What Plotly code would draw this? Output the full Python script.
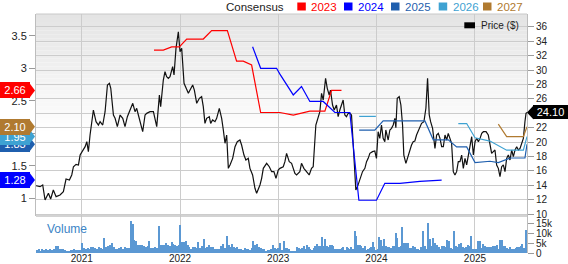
import numpy as np
import plotly.graph_objects as go
from datetime import datetime

# ---------------- data (decimal years) ----------------
price_year = [
    2020.535, 2020.576, 2020.603, 2020.627, 2020.661, 2020.684, 2020.711, 2020.739, 2020.779, 2020.813,
    2020.840, 2020.874, 2020.898, 2020.915, 2020.942, 2020.966, 2020.983, 2021.010, 2021.034, 2021.051,
    2021.067, 2021.084, 2021.118, 2021.145, 2021.169, 2021.186, 2021.213, 2021.237, 2021.261, 2021.281,
    2021.295, 2021.322, 2021.339, 2021.362, 2021.390, 2021.417, 2021.440, 2021.464, 2021.491, 2021.519,
    2021.542, 2021.559, 2021.576, 2021.593, 2021.620, 2021.644, 2021.661, 2021.695, 2021.729, 2021.763,
    2021.790, 2021.803, 2021.830, 2021.847, 2021.864, 2021.881, 2021.898, 2021.925, 2021.939, 2021.959,
    2021.983, 2022.000, 2022.017, 2022.041, 2022.061, 2022.085, 2022.102, 2022.129, 2022.146, 2022.170,
    2022.197, 2022.220, 2022.237, 2022.254, 2022.271, 2022.298, 2022.312, 2022.332, 2022.356, 2022.373,
    2022.400, 2022.424, 2022.441, 2022.458, 2022.475, 2022.492, 2022.509, 2022.536, 2022.560, 2022.583,
    2022.610, 2022.627, 2022.651, 2022.671, 2022.695, 2022.712, 2022.739, 2022.763, 2022.780, 2022.814,
    2022.831, 2022.848, 2022.882, 2022.909, 2022.933, 2022.956, 2022.977, 2023.000,
    2023.017, 2023.051, 2023.068, 2023.085, 2023.112, 2023.136, 2023.170, 2023.187, 2023.220, 2023.237,
    2023.261, 2023.288, 2023.315, 2023.339, 2023.356, 2023.383, 2023.407, 2023.424, 2023.441, 2023.458,
    2023.482, 2023.499, 2023.519, 2023.532, 2023.553, 2023.570, 2023.593, 2023.610, 2023.627, 2023.644,
    2023.661, 2023.678, 2023.695, 2023.712, 2023.729, 2023.746, 2023.770, 2023.790, 2023.807, 2023.831,
    2023.858, 2023.882, 2023.899, 2023.916, 2023.933, 2023.960, 2023.983, 2024.000, 2024.017, 2024.034,
    2024.051, 2024.068, 2024.085, 2024.095, 2024.119, 2024.136, 2024.153, 2024.170, 2024.187, 2024.197,
    2024.211, 2024.231, 2024.248, 2024.265, 2024.278, 2024.299, 2024.323, 2024.339, 2024.356, 2024.373,
    2024.390, 2024.407, 2024.434, 2024.458, 2024.482, 2024.502, 2024.519, 2024.536, 2024.550, 2024.570,
    2024.594, 2024.611, 2024.628, 2024.645, 2024.662, 2024.679, 2024.696, 2024.713, 2024.729, 2024.746,
    2024.763, 2024.780, 2024.797, 2024.814, 2024.831, 2024.848, 2024.865, 2024.882, 2024.899, 2024.916,
    2024.933, 2024.950, 2024.967, 2024.984, 2025.001, 2025.018, 2025.035, 2025.052, 2025.069, 2025.086,
    2025.113, 2025.136, 2025.153, 2025.170, 2025.187, 2025.204, 2025.221, 2025.238, 2025.255, 2025.272,
    2025.289, 2025.306, 2025.323, 2025.340, 2025.357, 2025.374, 2025.391, 2025.408, 2025.425, 2025.442,
    2025.459, 2025.476, 2025.493, 2025.509, 2025.520, 2025.530,
]
price_usd = [
    13.93, 13.80, 14.03, 11.94, 12.87, 12.08, 13.33, 12.41, 12.64, 13.10,
    14.86, 14.72, 15.42, 16.57, 16.90, 16.81, 18.19, 18.89, 19.35, 20.05,
    18.66, 20.97, 24.44, 22.82, 22.36, 22.82, 22.36, 24.21, 27.92, 28.15,
    27.46, 23.75, 23.29, 22.13, 23.75, 23.29, 22.13, 23.52, 24.44, 25.37,
    24.21, 24.68, 23.75, 22.82, 21.43, 23.75, 23.98, 24.21, 24.21, 22.13,
    26.53, 24.91, 28.61, 29.76, 29.07, 28.84, 29.07, 30.46, 29.31, 33.01,
    35.32, 32.54, 33.01, 28.15, 27.46, 26.76, 27.22, 27.92, 27.22, 25.37,
    26.07, 26.30, 24.91, 22.59, 23.29, 23.52, 22.59, 23.06, 22.82, 23.29,
    24.68, 23.29, 21.67, 19.82, 20.97, 16.34, 16.81, 17.73, 19.35, 20.05,
    20.28, 19.58, 18.19, 17.50, 17.73, 16.34, 15.42, 13.57, 12.87, 14.03,
    14.96, 16.34, 17.04, 16.57, 15.88, 15.88, 14.96, 16.11,
    16.34, 16.57, 17.27, 18.43, 17.27, 17.04, 15.65, 15.42, 15.88, 17.04,
    16.34, 15.88, 15.42, 16.34, 16.57, 22.36, 23.29, 24.21, 26.76, 25.83,
    28.84, 27.46, 26.53, 27.22, 25.14, 24.44, 25.14, 23.52, 24.44, 25.14,
    25.83, 23.75, 23.52, 23.98, 23.98, 23.75, 17.27, 13.33, 13.80, 14.96,
    15.88, 16.34, 17.27, 17.73, 18.43, 18.66, 18.75, 17.73, 21.43, 20.51,
    22.36, 20.51, 20.05, 21.67, 20.28, 21.67, 21.90, 22.36, 23.29, 21.99,
    26.07, 26.30, 25.14, 22.36, 18.19, 17.04, 18.19, 18.66, 19.58, 20.05,
    20.14, 20.97, 21.90, 22.59, 22.82, 24.68, 28.84, 23.75, 22.82, 21.90,
    19.12, 20.97, 21.20, 20.51, 19.35, 19.35, 20.97, 20.28, 21.20, 20.51,
    19.82, 15.88, 15.42, 15.88, 17.27, 17.27, 18.19, 16.34, 17.73, 16.81,
    18.19, 19.58, 20.74, 18.19, 20.05, 20.51, 20.05, 20.51, 21.20, 21.43,
    21.43, 20.97, 19.35, 18.43, 18.66, 18.89, 16.81, 16.34, 15.18, 16.57,
    16.81, 15.88, 17.73, 18.19, 17.50, 18.89, 17.96, 18.89, 19.35, 18.89,
    19.12, 19.82, 20.51, 22.82, 23.98, 24.10,
]

cons_2023_year = [2021.735, 2021.830, 2021.915, 2021.993, 2022.068, 2022.237, 2022.322, 2022.482, 2022.576,
                  2022.644, 2022.729, 2022.821, 2023.017, 2023.153, 2023.322, 2023.475, 2023.543, 2023.644]
cons_2023_eps = [3.28, 3.28, 3.33, 3.33, 3.45, 3.45, 3.58, 3.58, 3.11, 3.11, 3.05, 2.32, 2.32, 2.28, 2.34, 2.34, 2.66, 2.66]

cons_2024_year = [2022.739, 2022.821, 2022.983, 2023.017, 2023.153, 2023.237, 2023.322, 2023.458, 2023.577,
                  2023.729, 2023.821, 2024.000, 2024.085, 2024.238, 2024.441, 2024.662]
cons_2024_eps = [3.33, 3.00, 3.00, 2.91, 2.59, 2.72, 2.49, 2.49, 2.32, 2.32, 0.97, 0.97, 1.23, 1.23, 1.26, 1.28]

cons_2025_year = [2023.824, 2023.983, 2024.068, 2024.492, 2024.577, 2024.729, 2024.814, 2024.916, 2025.001,
                  2025.153, 2025.238, 2025.357, 2025.509, 2025.530]
cons_2025_eps = [2.05, 2.05, 2.19, 2.19, 1.90, 1.90, 1.79, 1.79, 1.55, 1.57, 1.55, 1.62, 1.62, 1.83]

cons_2026_year = [2023.824, 2023.994, 2024.400, 2024.831, 2024.916, 2025.001, 2025.153, 2025.323, 2025.493, 2025.530]
cons_2026_eps = [2.26, 2.26, None, 2.15, 2.15, 1.93, 1.88, 1.74, 1.74, 1.95]

cons_2027_year = [2025.238, 2025.323, 2025.493, 2025.530]
cons_2027_eps = [2.14, 1.95, 1.95, 2.10]

# weekly volume (thousands of shares), in four consecutive stretches of time
vol_span_1 = (2020.545, 2021.786)
vol_k_1 = [1.5, 1.8, 1.2, 2.0, 1.5, 1.8, 1.5, 2.0, 1.7, 2.2, 3.7, 3.6, 2.0, 1.8, 2.0, 1.5,
           1.2, 1.0, 1.3, 1.5, 2.2, 1.4, 1.6, 1.5, 4.8, 2.6, 2.2, 2.5, 2.0, 2.8, 3.0, 2.4,
           2.0, 2.8, 2.5, 2.2, 7.7, 3.2, 3.5, 4.2, 4.8, 3.0, 2.2, 2.0, 2.4, 2.8, 2.2, 3.0,
           2.5, 2.3, 16.0, 14.3, 6.5, 6.0, 4.0, 3.8, 4.2, 3.5, 3.0, 3.5, 6.0, 2.6, 2.4, 2.8,
           2.5, 13.7]
vol_span_2 = (2021.807, 2023.058)
vol_k_2 = [4.0, 3.8, 4.0, 5.0, 3.8, 3.5, 5.4, 4.3, 4.2, 3.5, 3.8, 13.8, 5.3, 5.3, 6.0, 4.0,
           3.2, 2.2, 2.8, 2.8, 2.6, 5.3, 2.5, 3.5, 7.2, 2.5, 3.2, 3.8, 2.8, 2.8, 2.2, 1.8,
           1.8, 2.2, 3.5, 4.3, 2.5, 8.5, 4.0, 3.0, 4.7, 2.8, 2.5, 3.0, 1.8, 2.0, 1.5, 2.5,
           2.2, 1.8, 1.5, 2.3, 6.0, 4.0, 4.5, 2.8, 2.5, 2.0, 1.8, 1.2, 1.5, 1.5, 2.0, 4.2,
           2.3, 2.0, 2.5, 4.8, 1.5, 6.0]
vol_span_3 = (2023.078, 2024.299)
vol_k_3 = [2.5, 2.5, 2.0, 1.2, 1.0, 1.0, 1.2, 2.8, 2.5, 2.0, 2.5, 3.3, 2.2, 4.0, 3.0, 2.2,
           1.5, 2.5, 3.5, 4.3, 3.5, 3.5, 8.0, 3.7, 7.0, 3.5, 3.2, 3.8, 3.8, 3.5, 2.0, 2.2,
           1.8, 2.0, 2.5, 3.0, 1.5, 3.0, 2.5, 1.8, 2.8, 1.8, 11.0, 8.5, 4.2, 3.8, 3.5, 2.5,
           3.5, 1.5, 2.2, 2.5, 3.0, 5.5, 3.0, 1.3, 2.0, 8.0, 6.5, 3.5, 7.0, 3.5, 3.0, 3.0,
           2.5, 3.5, 3.3, 10.0, 7.5, 3.0, 3.5, 13.0, 5.0, 5.0]
vol_span_4 = (2024.319, 2025.520)
vol_k_4 = [5.0, 2.5, 2.7, 3.5, 2.8, 2.0, 1.8, 1.5, 3.0, 11.0, 3.5, 2.0, 15.0, 7.0, 3.5, 7.5,
           5.0, 4.0, 3.0, 2.0, 3.7, 3.5, 3.0, 6.5, 6.0, 2.5, 2.0, 10.8, 3.5, 3.0, 4.5, 5.0,
           3.0, 2.5, 3.0, 3.8, 3.5, 8.5, 2.0, 2.0, 2.0, 6.0, 6.0, 2.5, 4.5, 3.3, 3.0, 2.8,
           3.0, 3.0, 3.5, 3.5, 3.8, 2.0, 6.5, 6.5, 3.3, 3.5, 2.5, 2.2, 3.0, 2.2, 2.0, 2.5,
           2.8, 3.0, 3.5, 4.5, 2.5, 11.5]

x_range_years = (2020.535, 2025.530)
year_ticks = [2021, 2022, 2023, 2024, 2025]
price_ticks = list(range(10, 37, 2))
eps_ticks = [1, 1.5, 2, 2.5, 3, 3.5]
vol_ticks = [0, 5, 10, 15]
vol_tick_text = ["0", "5k", "10k", "15k"]

series_names = ["2023", "2024", "2025", "2026", "2027"]
series_colors = ["#ff0000", "#0000ff", "#1f5fae", "#3ea2d2", "#b07a30"]


def to_date(y):
    if y is None:
        return None
    yr = int(np.floor(y))
    s = datetime(yr, 1, 1)
    e = datetime(yr + 1, 1, 1)
    return s + (e - s) * (y - yr)


# ---------------- figure ----------------
W, H = 568, 264
ML, MR, MT, MB = 36, 41, 14, 11
PW, PH = W - ML - MR, H - MT - MB
VOL_TOP = 216  # pixel row where price panel ends


def px(x):
    return (x - ML) / PW


def py(y):
    return (H - MB - y) / PH


split = py(VOL_TOP)

fig = go.Figure()

# volume bars
vol_x, vol_y = [], []
for span, vals in [(vol_span_1, vol_k_1), (vol_span_2, vol_k_2), (vol_span_3, vol_k_3), (vol_span_4, vol_k_4)]:
    ys = np.linspace(span[0], span[1], len(vals))
    vol_x += [to_date(v) for v in ys]
    vol_y += vals
fig.add_trace(go.Bar(x=vol_x, y=vol_y, yaxis="y3", marker=dict(color="#5b98d3", line=dict(width=0)),
                     width=5.0 * 86400000, hoverinfo="skip"))

cons = [(cons_2023_year, cons_2023_eps), (cons_2024_year, cons_2024_eps), (cons_2025_year, cons_2025_eps),
        (cons_2026_year, cons_2026_eps), (cons_2027_year, cons_2027_eps)]
for (yrs, eps), name, col in zip(cons, series_names, series_colors):
    fig.add_trace(go.Scatter(x=[to_date(v) for v in yrs], y=eps, yaxis="y2", mode="lines", name=name,
                             line=dict(color=col, width=1.2), connectgaps=False))

fig.add_trace(go.Scatter(x=[to_date(v) for v in price_year], y=price_usd, yaxis="y", mode="lines",
                         name="Price ($)", line=dict(color="#111111", width=1.2)))

shapes = []
# background gradient of the price panel
n = 30
top, bot = 14, 135
for i in range(n):
    y0 = top + (bot - top) * i / n
    y1 = top + (bot - top) * (i + 1) / n
    g = int(round(228 + (255 - 228) * i / (n - 1)))
    shapes.append(dict(type="rect", xref="paper", yref="paper", x0=0, x1=1, y0=py(y1), y1=py(y0),
                       fillcolor=f"rgb({g},{g},{g})", line=dict(width=0), layer="below"))
# frame lines
shapes.append(dict(type="line", xref="paper", yref="paper", x0=0, x1=1, y0=1, y1=1,
                   line=dict(color="#c8c8c8", width=1)))
shapes.append(dict(type="line", xref="paper", yref="paper", x0=0, x1=1, y0=split, y1=split,
                   line=dict(color="#c4c4c4", width=1.5)))

annotations = []
# header legend
annotations.append(dict(text="Consensus", xref="paper", yref="paper", x=px(225), y=py(0),
                        xanchor="left", yanchor="top", showarrow=False, borderpad=0,
                        font=dict(size=11.5, color="#222222", family="Arial")))
sq_x = [297.3, 344, 391, 438.7, 483]
for sx, name, col in zip(sq_x, series_names, series_colors):
    shapes.append(dict(type="rect", xref="paper", yref="paper", x0=px(sx), x1=px(sx + 8.5),
                       y0=py(10.5), y1=py(2.5), fillcolor=col, line=dict(width=0)))
    annotations.append(dict(text=name, xref="paper", yref="paper", x=px(sx + 13), y=py(0),
                            xanchor="left", yanchor="top", showarrow=False, borderpad=0,
                            font=dict(size=11.5, color=col, family="Arial")))
# price legend
shapes.append(dict(type="rect", xref="paper", yref="paper", x0=px(464.3), x1=px(475), y0=py(28.3), y1=py(22.3),
                   fillcolor="#000000", line=dict(width=0)))
annotations.append(dict(text="Price ($)", xref="paper", yref="paper", x=px(478.5), y=py(25.5),
                        xanchor="left", yanchor="middle", showarrow=False,
                        font=dict(size=10, color="#222222", family="Arial")))
# volume label
annotations.append(dict(text="Volume", xref="paper", yref="paper", x=px(45), y=py(228.5),
                        xanchor="left", yanchor="middle", showarrow=False,
                        font=dict(size=12, color="#3b84c6", family="Arial")))

# left badges (last consensus values), drawn bottom-to-top
badge_order = [0, 1, 2, 3, 4]
for i in badge_order:
    last = cons[i][1][-1]
    col = series_colors[i]
    shapes.append(dict(type="path", xref="paper", yref="y2", xsizemode="pixel", ysizemode="pixel",
                       xanchor=px(0), yanchor=last, path="M 29,-8 L 35,0 L 29,8 Z",
                       fillcolor=col, line=dict(width=0)))
    annotations.append(dict(text=f"{last:.2f}", xref="paper", yref="y2", x=px(0), y=last,
                            xanchor="left", yanchor="middle", showarrow=False, width=30, height=16,
                            bgcolor=col, borderpad=0, borderwidth=0,
                            font=dict(size=11, color="white", family="Arial")))

# right price badge
last_price = price_usd[-1]
shapes.append(dict(type="path", xref="paper", yref="y", xsizemode="pixel", ysizemode="pixel",
                   xanchor=1, yanchor=last_price, path="M 0,0 L 6.5,-7 L 6.5,7 Z",
                   fillcolor="#000000", line=dict(width=0)))
annotations.append(dict(text=f"{last_price:.2f}", xref="paper", yref="y", x=px(533), y=last_price,
                        xanchor="left", yanchor="middle", showarrow=False, width=35, height=14,
                        bgcolor="#000000", borderpad=0, borderwidth=0,
                        font=dict(size=11, color="white", family="Arial")))

axis_font = dict(size=10, color="#222222", family="Arial")
fig.update_layout(
    width=W, height=H, margin=dict(l=ML, r=MR, t=MT, b=MB, autoexpand=False),
    paper_bgcolor="white", plot_bgcolor="rgba(0,0,0,0)", showlegend=False, bargap=0,
    font=dict(family="Arial", size=10, color="#222222"),
    xaxis=dict(type="date", range=[to_date(x_range_years[0]), to_date(x_range_years[1])],
               tickvals=[datetime(y, 1, 1) for y in year_ticks], ticktext=[str(y) for y in year_ticks],
               showgrid=True, gridcolor="#cccccc", gridwidth=1, zeroline=False, showline=False,
               ticks="", tickfont=axis_font, anchor="y3", automargin=False, ticklabelstandoff=-2),
    yaxis=dict(domain=[split, 1], side="right", range=[9.722, 37.78], tickvals=price_ticks,
               showgrid=True, gridcolor="#cccccc", gridwidth=1, zeroline=False,
               showline=True, linecolor="#bdbdbd", linewidth=1, automargin=False,
               ticks="outside", ticklen=6, tickcolor="#9a9a9a", tickfont=axis_font, anchor="x"),
    yaxis2=dict(overlaying="y", side="left", range=[0.7277, 3.835], tickvals=eps_ticks,
                showgrid=False, zeroline=False, showline=True, linecolor="#bdbdbd", linewidth=1,
                automargin=False, ticks="outside", ticklen=6, tickcolor="#9a9a9a",
                tickfont=dict(size=11, color="#222222", family="Arial"), anchor="x"),
    yaxis3=dict(domain=[0, split], side="right", range=[0, 18.5], tickvals=vol_ticks, ticktext=vol_tick_text,
                showgrid=False, zeroline=False, showline=True, linecolor="#bdbdbd", linewidth=1,
                automargin=False, ticks="outside", ticklen=6, tickcolor="#9a9a9a", tickfont=axis_font,
                anchor="x"),
    shapes=shapes, annotations=annotations,
)

fig.write_html("out.html")
